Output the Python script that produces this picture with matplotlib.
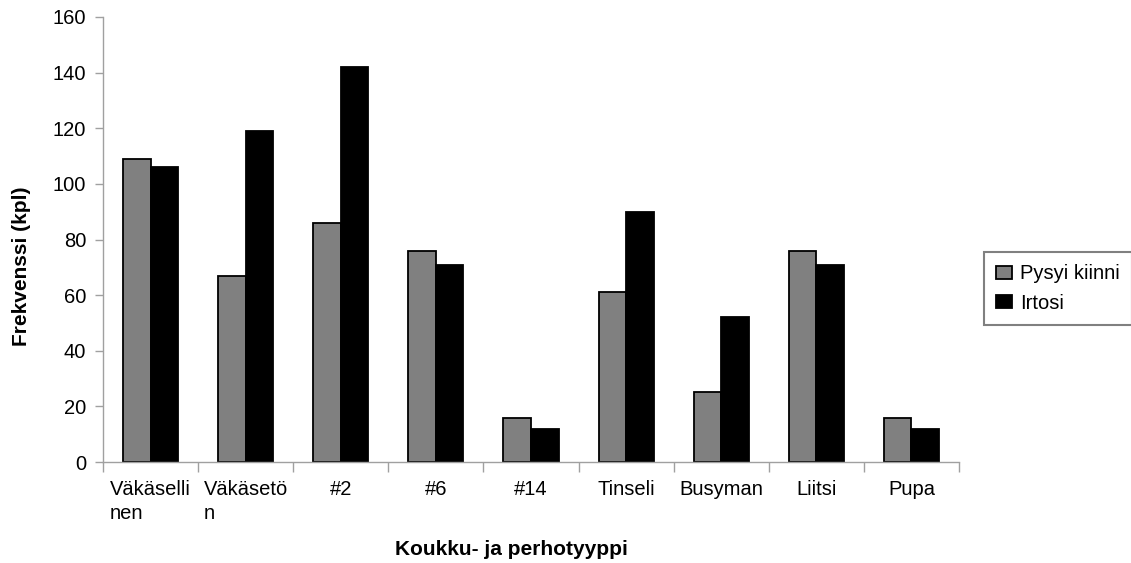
import numpy as np
import matplotlib
matplotlib.use("Agg")
import matplotlib.pyplot as plt
from matplotlib.ticker import FixedLocator, NullFormatter

plt.rcParams['font.family'] = ['Liberation Sans', 'DejaVu Sans']

categories = ["Väkäselli\nnen", "Väkäsetö\nn", "#2", "#6", "#14", "Tinseli", "Busyman", "Liitsi", "Pupa"]
pysyi_kiinni = [109, 67, 86, 76, 16, 61, 25, 76, 16]
irtosi = [106, 119, 142, 71, 12, 90, 52, 71, 12]
y_ticks = [0, 20, 40, 60, 80, 100, 120, 140, 160]

W, H = 1131, 563
fig = plt.figure(figsize=(W / 100, H / 100), dpi=100)
ax = fig.add_axes([103 / W, 101 / H, 856 / W, 445 / H])

x = np.arange(len(categories))
bw = 0.29
ax.bar(x - bw / 2, pysyi_kiinni, bw, color='#808080', edgecolor='black', linewidth=1.3,
       label='Pysyi kiinni')
ax.bar(x + bw / 2, irtosi, bw, color='black', edgecolor='black', linewidth=1.3,
       label='Irtosi')

ax.set_xlim(-0.5, len(categories) - 0.5)
ax.set_ylim(0, 160)
ax.set_yticks(y_ticks)
ax.tick_params(axis='y', colors='#a0a0a0', labelcolor='black', labelsize=14.5, length=6, width=1,
               pad=6)

ax.set_xticks(x)
ax.set_xticklabels(categories, fontsize=14.5, multialignment='left', va='top', linespacing=1.3)
ax.tick_params(axis='x', length=0, pad=13)
ax.xaxis.set_minor_locator(FixedLocator(np.arange(-0.5, len(categories), 1.0)))
ax.xaxis.set_minor_formatter(NullFormatter())
ax.tick_params(axis='x', which='minor', length=7, width=1, colors='#a0a0a0')

for s in ['top', 'right']:
    ax.spines[s].set_visible(False)
for s in ['left', 'bottom']:
    ax.spines[s].set_color('#a0a0a0')
    ax.spines[s].set_linewidth(1)

# axis titles placed in pixel terms relative to the plot area
ax.set_ylabel('Frekvenssi (kpl)', fontsize=15, fontweight='bold')
ax.yaxis.label.set_va('center')
ax.yaxis.set_label_coords((22 - 103) / 856, (462 - 266) / 445)

ax.set_xlabel('Koukku- ja perhotyyppi', fontsize=15, fontweight='bold')
ax.xaxis.label.set_va('baseline')
ax.xaxis.set_label_coords((511 - 103) / 856, -(555 - 462) / 445)

leg = fig.legend(loc='center left', bbox_to_anchor=(984 / W, 1 - 288.5 / H), fontsize=14.5,
                 frameon=True, fancybox=False, edgecolor='#606060', handlelength=0.8,
                 handleheight=0.65, handletextpad=0.4, borderpad=0.6, labelspacing=0.5,
                 borderaxespad=0)
leg.get_frame().set_linewidth(1.5)

fig.savefig('out.png', dpi=100, facecolor='white')
